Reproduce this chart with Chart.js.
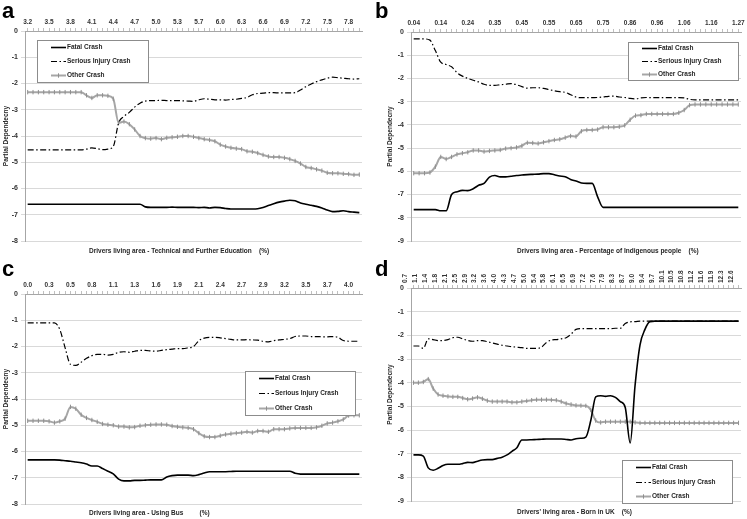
<!DOCTYPE html>
<html>
<head>
<meta charset="utf-8">
<script src="https://cdn.jsdelivr.net/npm/chart.js@4.4.1/dist/chart.umd.min.js"></script>
<style>
  html, body { margin: 0; padding: 0; background: #fff; }
  #wrap { position: relative; width: 747px; height: 519px; overflow: hidden; }
  canvas { position: absolute; }
  .letter { position: absolute; font: bold 22px "Liberation Sans", Arial, sans-serif; line-height: 22px; color: #000; }
  .xt { position: absolute; font: bold 6.5px "Liberation Sans", Arial, sans-serif; line-height: 8px; color: #262626; white-space: pre; }
</style>
</head>
<body>
<div id="wrap">
  <canvas id="chart-a" width="373" height="258" style="left:0;top:0"></canvas>
  <canvas id="chart-b" width="374" height="258" style="left:373px;top:0"></canvas>
  <canvas id="chart-c" width="373" height="261" style="left:0;top:258px"></canvas>
  <canvas id="chart-d" width="374" height="261" style="left:373px;top:258px"></canvas>

  <div class="letter" style="left:2px;top:0">a</div>
  <div class="letter" style="left:375px;top:0">b</div>
  <div class="letter" style="left:2px;top:258px">c</div>
  <div class="letter" style="left:375px;top:258px">d</div>

  <div class="xt" style="left:89px;top:247px">Drivers living area - Technical and Further Education    (%)</div>
  <div class="xt" style="left:517px;top:247px">Drivers living area - Percentage of Indigenous people    (%)</div>
  <div class="xt" style="left:89px;top:509px">Drivers living area - Using Bus         (%)</div>
  <div class="xt" style="left:517px;top:508px">Drivers' living area - Born in UK    (%)</div>
</div>

<script>
// --- a: Technical and Further Education ---
const aTicks = ['3.2','3.5','3.8','4.1','4.4','4.7','5.0','5.3','5.7','6.0','6.3','6.6','6.9','7.2','7.5','7.8'];
const aFatal = [
  -6.6,-6.6,-6.6,-6.6,-6.6,-6.6,-6.6,-6.6,-6.6,-6.6,
  -6.6,-6.6,-6.6,-6.6,-6.6,-6.6,-6.6,-6.6,-6.6,-6.6,
  -6.6,-6.6,-6.7,-6.72,-6.72,-6.72,-6.72,-6.71,-6.72,-6.72,
  -6.72,-6.72,-6.73,-6.72,-6.74,-6.72,-6.73,-6.76,-6.78,-6.78,
  -6.78,-6.78,-6.78,-6.77,-6.72,-6.65,-6.58,-6.52,-6.48,-6.45,
  -6.47,-6.55,-6.6,-6.64,-6.68,-6.74,-6.82,-6.88,-6.87,-6.85,
  -6.88,-6.9,-6.92
];
const aSerious = [
  -4.53,-4.53,-4.53,-4.53,-4.53,-4.53,-4.53,-4.53,-4.53,-4.53,
  -4.53,-4.5,-4.45,-4.48,-4.52,-4.5,-4.4,-3.5,-3.25,-3.1,
  -2.9,-2.75,-2.67,-2.65,-2.65,-2.64,-2.65,-2.65,-2.65,-2.66,
  -2.67,-2.68,-2.62,-2.58,-2.6,-2.62,-2.62,-2.63,-2.61,-2.6,
  -2.57,-2.53,-2.43,-2.38,-2.37,-2.35,-2.35,-2.36,-2.36,-2.36,
  -2.35,-2.25,-2.12,-2.02,-1.93,-1.86,-1.8,-1.76,-1.78,-1.8,
  -1.82,-1.83,-1.82
];
const aOther = [
  -2.33,-2.33,-2.33,-2.33,-2.33,-2.33,-2.33,-2.33,-2.33,-2.33,
  -2.33,-2.45,-2.55,-2.45,-2.45,-2.47,-2.58,-3.5,-3.45,-3.55,
  -3.75,-4.0,-4.08,-4.1,-4.08,-4.12,-4.07,-4.05,-4.03,-4.0,
  -4.0,-4.03,-4.08,-4.12,-4.15,-4.2,-4.33,-4.4,-4.45,-4.48,
  -4.5,-4.58,-4.6,-4.65,-4.72,-4.78,-4.8,-4.8,-4.83,-4.88,
  -4.95,-5.05,-5.18,-5.22,-5.27,-5.32,-5.4,-5.42,-5.42,-5.44,
  -5.45,-5.48,-5.47
];

// --- b: Percentage of Indigenous people ---
const bTicks = ['0.04','0.14','0.24','0.35','0.45','0.55','0.65','0.75','0.86','0.96','1.06','1.16','1.27'];
const bFatal = [
  -7.65,-7.65,-7.65,-7.65,-7.65,-7.7,-7.7,-7.0,-6.88,-6.82,
  -6.83,-6.75,-6.6,-6.52,-6.25,-6.18,-6.24,-6.24,-6.21,-6.18,
  -6.16,-6.14,-6.13,-6.12,-6.1,-6.1,-6.15,-6.2,-6.23,-6.35,
  -6.42,-6.5,-6.52,-6.52,-7.1,-7.55,-7.55,-7.55,-7.55,-7.55,
  -7.55,-7.55,-7.55,-7.55,-7.55,-7.55,-7.55,-7.55,-7.55,-7.55,
  -7.55,-7.55,-7.55,-7.55,-7.55,-7.55,-7.55,-7.55,-7.55,-7.55,
  -7.55
];
const bSerious = [
  -0.3,-0.3,-0.3,-0.35,-0.8,-1.3,-1.4,-1.5,-1.75,-1.9,
  -2.0,-2.08,-2.15,-2.25,-2.3,-2.3,-2.27,-2.25,-2.22,-2.27,
  -2.35,-2.42,-2.4,-2.4,-2.43,-2.48,-2.53,-2.57,-2.6,-2.7,
  -2.8,-2.83,-2.83,-2.83,-2.82,-2.8,-2.77,-2.76,-2.8,-2.82,
  -2.86,-2.88,-2.84,-2.82,-2.83,-2.83,-2.83,-2.83,-2.83,-2.83,
  -2.84,-2.9,-2.92,-2.92,-2.92,-2.92,-2.92,-2.92,-2.92,-2.92,
  -2.92
];
const bOther = [
  -6.08,-6.08,-6.08,-6.05,-5.8,-5.38,-5.47,-5.38,-5.27,-5.22,
  -5.18,-5.1,-5.1,-5.15,-5.12,-5.1,-5.08,-5.02,-5.0,-4.97,
  -4.9,-4.77,-4.78,-4.8,-4.75,-4.7,-4.65,-4.62,-4.55,-4.48,
  -4.5,-4.27,-4.22,-4.22,-4.2,-4.1,-4.1,-4.1,-4.08,-4.02,
  -3.78,-3.6,-3.58,-3.53,-3.53,-3.53,-3.53,-3.53,-3.53,-3.48,
  -3.36,-3.15,-3.12,-3.12,-3.12,-3.12,-3.12,-3.12,-3.12,-3.12,
  -3.12
];

// --- c: Using Bus ---
const cTicks = ['0.0','0.3','0.5','0.8','1.1','1.3','1.6','1.9','2.1','2.4','2.7','2.9','3.2','3.5','3.7','4.0'];
const cFatal = [
  -6.32,-6.32,-6.32,-6.32,-6.32,-6.32,-6.33,-6.35,-6.37,-6.4,
  -6.43,-6.48,-6.55,-6.55,-6.65,-6.75,-6.85,-7.05,-7.12,-7.12,
  -7.1,-7.1,-7.09,-7.08,-7.08,-7.08,-6.97,-6.92,-6.9,-6.9,
  -6.9,-6.92,-6.88,-6.82,-6.77,-6.77,-6.77,-6.77,-6.76,-6.75,
  -6.75,-6.75,-6.75,-6.75,-6.75,-6.75,-6.75,-6.75,-6.75,-6.75,
  -6.83,-6.86,-6.86,-6.86,-6.86,-6.86,-6.86,-6.86,-6.86,-6.86,
  -6.86,-6.86,-6.86
];
const cSerious = [
  -1.1,-1.1,-1.1,-1.1,-1.1,-1.1,-1.35,-2.05,-2.68,-2.72,
  -2.6,-2.45,-2.35,-2.3,-2.3,-2.33,-2.3,-2.22,-2.2,-2.22,
  -2.18,-2.15,-2.15,-2.17,-2.18,-2.15,-2.12,-2.1,-2.08,-2.08,
  -2.05,-2.0,-1.78,-1.68,-1.65,-1.65,-1.67,-1.7,-1.73,-1.75,
  -1.75,-1.74,-1.75,-1.76,-1.8,-1.82,-1.78,-1.75,-1.73,-1.7,
  -1.62,-1.6,-1.6,-1.62,-1.62,-1.63,-1.63,-1.62,-1.65,-1.77,
  -1.8,-1.8,-1.8
];
const cOther = [
  -4.83,-4.83,-4.83,-4.83,-4.85,-4.9,-4.85,-4.75,-4.3,-4.37,
  -4.6,-4.72,-4.8,-4.87,-4.95,-4.98,-5.0,-5.05,-5.05,-5.08,
  -5.07,-5.02,-5.0,-4.98,-4.97,-4.97,-4.98,-5.03,-5.06,-5.08,
  -5.1,-5.15,-5.3,-5.42,-5.45,-5.45,-5.4,-5.35,-5.32,-5.3,
  -5.28,-5.25,-5.28,-5.22,-5.22,-5.25,-5.15,-5.15,-5.15,-5.12,
  -5.1,-5.1,-5.1,-5.1,-5.08,-5.02,-4.93,-4.9,-4.85,-4.78,
  -4.63,-4.62,-4.62
];

// --- d: Born in UK ---
const dTicks = ['0.7','1.1','1.4','1.8','2.1','2.5','2.9','3.2','3.6','4.0','4.3','4.7','5.0','5.4','5.8','6.1','6.5',
  '6.9','7.2','7.6','7.9','8.3','8.7','9.0','9.4','9.7','10.1','10.5','10.8','11.2','11.6','11.9','12.3','12.6'];
const dFatal = [
  -7.05,-7.05,-7.1,-7.6,-7.7,-7.62,-7.5,-7.45,-7.45,-7.45,
  -7.42,-7.37,-7.38,-7.32,-7.27,-7.25,-7.25,-7.2,-7.15,-7.05,
  -6.9,-6.75,-6.42,-6.42,-6.41,-6.4,-6.39,-6.38,-6.38,-6.38,
  -6.38,-6.4,-6.42,-6.37,-6.35,-6.3,-5.6,-4.6,-4.55,-4.58,
  -4.55,-4.62,-4.8,-5.05,-6.55,-4.1,-2.4,-1.75,-1.42,-1.4,
  -1.4,-1.4,-1.4,-1.4,-1.4,-1.4,-1.4,-1.4,-1.4,-1.4,
  -1.4,-1.4,-1.4,-1.4,-1.4,-1.4,-1.4
];
const dSerious = [
  -2.45,-2.45,-2.55,-2.15,-2.18,-2.22,-2.22,-2.18,-2.1,-2.08,
  -2.15,-2.22,-2.25,-2.22,-2.22,-2.27,-2.32,-2.37,-2.42,-2.45,
  -2.48,-2.5,-2.52,-2.55,-2.55,-2.55,-2.5,-2.3,-2.2,-2.18,
  -2.15,-2.1,-1.95,-1.75,-1.72,-1.72,-1.72,-1.72,-1.72,-1.72,
  -1.72,-1.7,-1.7,-1.5,-1.43,-1.42,-1.4,-1.4,-1.4,-1.4,
  -1.4,-1.4,-1.4,-1.4,-1.4,-1.4,-1.4,-1.4,-1.4,-1.4,
  -1.4,-1.4,-1.4,-1.4,-1.4,-1.4,-1.4
];
const dOther = [
  -4.0,-4.0,-3.97,-3.85,-4.25,-4.5,-4.55,-4.58,-4.6,-4.6,
  -4.65,-4.7,-4.67,-4.62,-4.68,-4.76,-4.8,-4.8,-4.8,-4.8,
  -4.83,-4.83,-4.8,-4.77,-4.74,-4.72,-4.72,-4.72,-4.73,-4.74,
  -4.8,-4.88,-4.92,-4.96,-4.97,-4.98,-5.15,-5.6,-5.68,-5.65,
  -5.65,-5.65,-5.65,-5.65,-5.65,-5.68,-5.7,-5.7,-5.7,-5.7,
  -5.7,-5.7,-5.7,-5.7,-5.7,-5.7,-5.7,-5.7,-5.7,-5.7,
  -5.7,-5.7,-5.7,-5.7,-5.7,-5.7,-5.7
];

const FONT = '"Liberation Sans", Arial, sans-serif';
const TEXT = '#262626';

// legend drawn as a boxed Excel-style key inside the plot
const boxLegend = {
  id: 'boxLegend',
  afterDraw(chart, args, opts){
    if(!opts || opts.width == null) return;
    const ctx = chart.ctx;
    const {left, top, width, height} = opts;
    ctx.save();
    ctx.fillStyle = '#fff';
    ctx.fillRect(left, top, width, height);
    ctx.strokeStyle = '#8c8c8c';
    ctx.lineWidth = 1;
    ctx.strokeRect(left + 0.5, top + 0.5, width, height);
    ctx.font = `bold 6.5px ${FONT}`;
    ctx.textBaseline = 'middle';
    const n = chart.data.datasets.length;
    chart.data.datasets.forEach((ds, i) => {
      const y = Math.round(top + height * (i + 0.5) / n) + 0.5;
      const x0 = left + 14, x1 = x0 + 15;
      ctx.strokeStyle = ds.borderColor;
      ctx.lineWidth = ds.borderWidth;
      ctx.setLineDash(ds.borderDash || []);
      ctx.beginPath(); ctx.moveTo(x0, y); ctx.lineTo(x1, y); ctx.stroke();
      ctx.setLineDash([]);
      if(ds.pointRadius){
        const xm = (x0 + x1) / 2;
        ctx.strokeStyle = ds.pointBorderColor;
        ctx.lineWidth = 1;
        ctx.beginPath(); ctx.moveTo(xm, y - ds.pointRadius); ctx.lineTo(xm, y + ds.pointRadius); ctx.stroke();
      }
      ctx.fillStyle = TEXT;
      ctx.fillText(ds.label, x1 + 1, y);
    });
    ctx.restore();
  }
};

function catLabels(n, ticks, step){
  const out = [];
  for(let i = 0; i < n; i++){
    out.push(i % step === 0 && ticks[i / step] !== undefined ? ticks[i / step] : '');
  }
  return out;
}

function makePanel(id, p){
  const el = document.getElementById(id);
  return new Chart(el, {
    type: 'line',
    data: {
      labels: catLabels(p.fatal.length, p.ticks, p.step),
      datasets: [
        { label: 'Fatal Crash', data: p.fatal, borderColor: '#000', borderWidth: 1.6,
          pointRadius: 0, cubicInterpolationMode: 'monotone' },
        { label: 'Serious Injury Crash', data: p.serious, borderColor: '#000', borderWidth: 1.2,
          borderDash: [6, 2.5, 1.5, 2.5], pointRadius: 0, cubicInterpolationMode: 'monotone' },
        { label: 'Other Crash', data: p.other, borderColor: '#a6a6a6', borderWidth: 2,
          pointStyle: 'line', pointRotation: 90, pointRadius: 2.2, pointBorderColor: '#8f8f8f',
          pointBorderWidth: 1, cubicInterpolationMode: 'monotone' }
      ]
    },
    options: {
      responsive: false,
      animation: false,
      layout: { padding: p.pad },
      plugins: {
        legend: { display: false },
        tooltip: { enabled: false },
        boxLegend: p.legend
      },
      scales: {
        x: {
          type: 'category',
          position: 'top',
          offset: true,
          grid: { display: true, drawOnChartArea: false, tickLength: 3, color: '#bfbfbf' },
          border: { color: '#a6a6a6' },
          ticks: { autoSkip: false, maxRotation: p.rot, minRotation: p.rot, padding: 2,
                   font: { size: 6.5, weight: 'bold', family: FONT }, color: '#333' },
          afterFit: s => { s.height = p.xh; }
        },
        y: {
          min: p.yMin,
          max: 0,
          grid: { color: '#d9d9d9', tickLength: 4 },
          border: { color: '#a6a6a6' },
          ticks: { stepSize: 1, padding: 3, font: { size: 7, weight: 'bold', family: FONT }, color: '#333' },
          title: { display: true, text: 'Partial Dependecny', color: TEXT,
                   font: { size: 6.5, weight: 'bold', family: FONT }, padding: { top: 2, bottom: 0 } },
          afterFit: s => { s.width = p.yw; }
        }
      }
    },
    plugins: [boxLegend]
  });
}

makePanel('chart-a', {
  ticks: aTicks, step: 4, fatal: aFatal, serious: aSerious, other: aOther,
  yMin: -8, rot: 0, xh: 19, yw: 25,
  pad: { left: 0, right: 11, top: 12, bottom: 17 },
  legend: { left: 37, top: 40, width: 111, height: 42 }
});
makePanel('chart-b', {
  ticks: bTicks, step: 5, fatal: bFatal, serious: bSerious, other: bOther,
  yMin: -9, rot: 0, xh: 20, yw: 27,
  pad: { left: 11, right: 6, top: 12, bottom: 17 },
  legend: { left: 255, top: 42, width: 110, height: 38 }
});
makePanel('chart-c', {
  ticks: cTicks, step: 4, fatal: cFatal, serious: cSerious, other: cOther,
  yMin: -8, rot: 0, xh: 22, yw: 25,
  pad: { left: 0, right: 11, top: 14, bottom: 15 },
  legend: { left: 245, top: 113, width: 110, height: 44 }
});
makePanel('chart-d', {
  ticks: dTicks, step: 2, fatal: dFatal, serious: dSerious, other: dOther,
  yMin: -9, rot: 90, xh: 26, yw: 27,
  pad: { left: 11, right: 6, top: 4, bottom: 18 },
  legend: { left: 249, top: 202, width: 110, height: 43 }
});
</script>
</body>
</html>
